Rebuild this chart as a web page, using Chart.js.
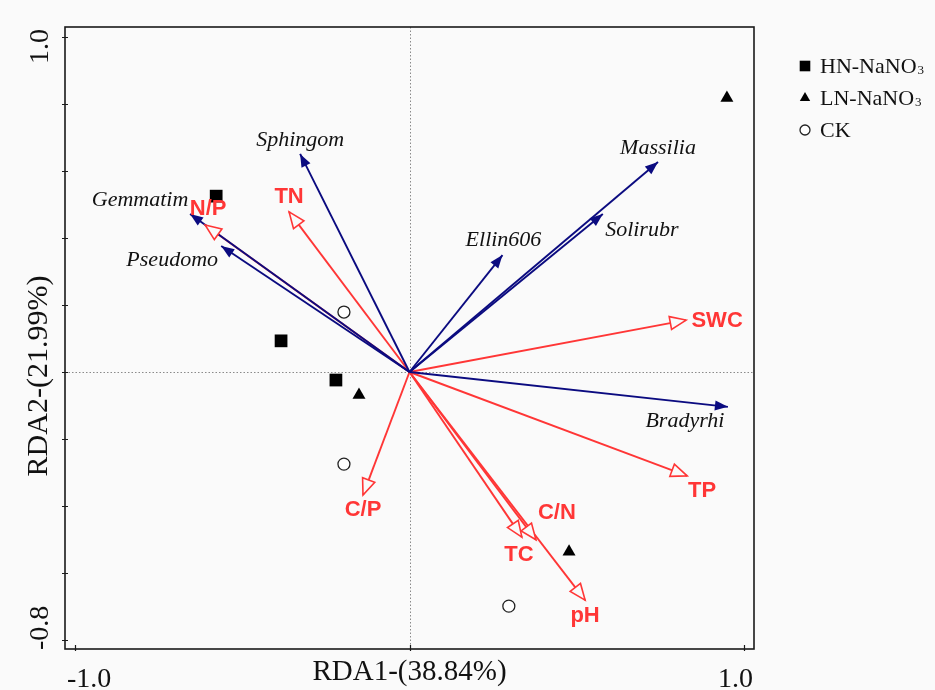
<!DOCTYPE html>
<html>
<head>
<meta charset="utf-8">
<script src="https://cdn.jsdelivr.net/npm/chart.js@4.4.1/dist/chart.umd.min.js"></script>
<style>
  html, body { margin: 0; padding: 0; background: #fafafa; }
  #wrap { width: 935px; height: 690px; }
</style>
</head>
<body>
<div id="wrap"><canvas id="rda" width="935" height="690"></canvas></div>
<script>
// sample scores (RDA1, RDA2)
const hnX = [-0.578, -0.384, -0.220];
const hnY = [0.525, 0.093, -0.024];
const lnX = [0.949, -0.151, 0.477];
const lnY = [0.818, -0.069, -0.537];
const ckX = [-0.196, -0.196, 0.297];
const ckY = [0.179, -0.275, -0.699];

// species vectors
const speciesNames = ["Sphingom", "Gemmatim", "Pseudomo", "Massilia", "Solirubr", "Ellin606", "Bradyrhi"];
const speciesX = [-0.327, -0.656, -0.563, 0.743, 0.578, 0.278, 0.952];
const speciesY = [0.651, 0.472, 0.376, 0.627, 0.472, 0.349, -0.104];

// environmental vectors
const envNames = ["N/P", "TN", "C/P", "TC", "C/N", "pH", "SWC", "TP"];
const envX = [-0.611, -0.360, -0.139, 0.336, 0.378, 0.525, 0.827, 0.830];
const envY = [0.439, 0.478, -0.367, -0.493, -0.501, -0.681, 0.155, -0.310];

const groupNames = ["HN-NaNO", "LN-NaNO", "CK"];
const xTicks = [-1.0, 1.0];
const yTicks = [1.0, -0.8];
const yMinorTicks = [-0.8, -0.6, -0.4, -0.2, 0, 0.2, 0.4, 0.6, 0.8, 1.0];
const xTitle = "RDA1-(38.84%)";
const yTitle = "RDA2-(21.99%)";

// label placement relative to the arrow tip, in px
const speciesLabelOffset = {
  Sphingom: [0, -14], Gemmatim: [-50, -14], Pseudomo: [-49, 14], Massilia: [0, -14],
  Solirubr: [39, 16], Ellin606: [1, -15], Bradyrhi: [-43, 14]
};
const envLabelOffset = {
  "N/P": [3, -16], TN: [0, -15], "C/P": [0, 15], TC: [-3, 18],
  "C/N": [21, -27], pH: [0, 16], SWC: [31, 1], TP: [15, 15]
};

const RED = "#ff3636";
const BLUE = "#0b0b80";
const BG = "#fafafa";
const SERIF = "'Liberation Serif', 'Times New Roman', serif";
const SANS = "'Liberation Sans', Arial, sans-serif";

const toPts = (xs, ys) => xs.map((x, i) => ({ x: x, y: ys[i] }));

const sampleSets = [
  { label: groupNames[0], data: toPts(hnX, hnY), pointStyle: "rect", pointRadius: 9,
    backgroundColor: "#000", borderColor: "#000", borderWidth: 0 },
  { label: groupNames[1], data: toPts(lnX, lnY), pointStyle: "triangle", pointRadius: 7.5,
    backgroundColor: "#000", borderColor: "#000", borderWidth: 0 },
  { label: groupNames[2], data: toPts(ckX, ckY), pointStyle: "circle", pointRadius: 6,
    backgroundColor: "#fff", borderColor: "#222", borderWidth: 1.3 }
];

const vectorSet = (name, x, y, color, kind) => ({
  label: name,
  data: [{ x: 0, y: 0 }, { x: x, y: y }],
  showLine: true,
  borderColor: color,
  borderWidth: 1.9,
  pointRadius: 0,
  vectorKind: kind
});

const speciesSets = speciesNames.map((n, i) => vectorSet(n, speciesX[i], speciesY[i], BLUE, "species"));
const envSets = envNames.map((n, i) => vectorSet(n, envX[i], envY[i], RED, "env"));

const rdaPlugin = {
  id: "rdaDecor",
  beforeDraw(chart) {
    const ctx = chart.ctx;
    ctx.save();
    ctx.fillStyle = BG;
    ctx.fillRect(0, 0, chart.width, chart.height);
    ctx.restore();
  },
  beforeDatasetsDraw(chart) {
    const { ctx, chartArea: a, scales: { x, y } } = chart;
    ctx.save();
    ctx.strokeStyle = "#8a8a8a";
    ctx.lineWidth = 1;
    ctx.setLineDash([1.5, 2]);
    const x0 = Math.round(x.getPixelForValue(0)) + 0.5;
    const y0 = Math.round(y.getPixelForValue(0)) + 0.5;
    ctx.beginPath();
    ctx.moveTo(x0, a.top); ctx.lineTo(x0, a.bottom);
    ctx.moveTo(a.left, y0); ctx.lineTo(a.right, y0);
    ctx.stroke();
    ctx.restore();
  },
  afterDatasetsDraw(chart) {
    const { ctx, chartArea: a, scales: { x, y } } = chart;
    const ox = x.getPixelForValue(0), oy = y.getPixelForValue(0);

    // arrow heads + vector labels
    chart.data.datasets.forEach((ds) => {
      if (!ds.vectorKind) return;
      const isEnv = ds.vectorKind === "env";
      const tip = ds.data[1];
      const tx = x.getPixelForValue(tip.x), ty = y.getPixelForValue(tip.y);
      const ang = Math.atan2(ty - oy, tx - ox);
      const len = isEnv ? 16 : 13;
      const half = isEnv ? 6.5 : 5;
      const bx = tx - len * Math.cos(ang), by = ty - len * Math.sin(ang);
      const px = -Math.sin(ang) * half, py = Math.cos(ang) * half;
      ctx.save();
      ctx.beginPath();
      ctx.moveTo(tx, ty);
      ctx.lineTo(bx + px, by + py);
      ctx.lineTo(bx - px, by - py);
      ctx.closePath();
      if (isEnv) {
        ctx.fillStyle = BG;
        ctx.fill();
        ctx.strokeStyle = RED;
        ctx.lineWidth = 1.6;
        ctx.stroke();
      } else {
        ctx.fillStyle = BLUE;
        ctx.fill();
      }

      const off = (isEnv ? envLabelOffset : speciesLabelOffset)[ds.label] || [0, 0];
      ctx.textAlign = "center";
      ctx.textBaseline = "middle";
      if (isEnv) {
        ctx.font = "bold 22px " + SANS;
        ctx.fillStyle = RED;
      } else {
        ctx.font = "italic 22px " + SERIF;
        ctx.fillStyle = "#111";
      }
      ctx.fillText(ds.label, tx + off[0], ty + off[1]);
      ctx.restore();
    });

    // frame and ticks
    ctx.save();
    ctx.strokeStyle = "#1a1a1a";
    ctx.lineWidth = 1.6;
    ctx.strokeRect(a.left, a.top, a.right - a.left, a.bottom - a.top);
    ctx.lineWidth = 1.2;
    ctx.beginPath();
    yMinorTicks.forEach((v) => {
      const py = Math.round(y.getPixelForValue(v)) + 0.5;
      ctx.moveTo(a.left - 3, py); ctx.lineTo(a.left + 3, py);
    });
    [-1.0, 0, 1.0].forEach((v) => {
      const px = Math.round(x.getPixelForValue(v)) + 0.5;
      ctx.moveTo(px, a.bottom - 4); ctx.lineTo(px, a.bottom + 2);
    });
    ctx.stroke();

    // tick labels
    ctx.fillStyle = "#111";
    ctx.font = "28px " + SERIF;
    ctx.textBaseline = "alphabetic";
    xTicks.forEach((v, i) => {
      const px = x.getPixelForValue(v);
      ctx.textAlign = i === 0 ? "left" : "right";
      ctx.fillText(v.toFixed(1), i === 0 ? px - 8 : px + 9, 687);
    });
    yTicks.forEach((v) => {
      const py = y.getPixelForValue(v);
      ctx.save();
      ctx.translate(48, v > 0 ? py - 8 : py + 10);
      ctx.rotate(-Math.PI / 2);
      ctx.textAlign = v > 0 ? "right" : "left";
      ctx.fillText(v.toFixed(1), 0, 0);
      ctx.restore();
    });

    // axis titles
    ctx.font = "29px " + SERIF;
    ctx.textAlign = "center";
    ctx.fillText(xTitle, x.getPixelForValue(0), 680);
    ctx.save();
    ctx.font = "30px " + SERIF;
    ctx.translate(47, y.getPixelForValue(0) + 4);
    ctx.rotate(-Math.PI / 2);
    ctx.fillText(yTitle, 0, 0);
    ctx.restore();
    ctx.restore();

    // legend: symbols in the dataset styles, names with subscript 3
    const rows = [66, 98, 130];
    ctx.save();
    sampleSets.forEach((ds, i) => {
      ctx.fillStyle = ds.backgroundColor;
      ctx.strokeStyle = ds.borderColor;
      ctx.lineWidth = ds.borderWidth || 0;
      Chart.helpers.drawPoint(ctx, {
        pointStyle: ds.pointStyle,
        radius: ds.pointStyle === "rect" ? 7.5 : ds.pointStyle === "triangle" ? 6 : 5,
        borderWidth: ds.borderWidth || 0,
        rotation: 0
      }, 805, rows[i]);
      ctx.fillStyle = "#111";
      ctx.font = "22px " + SERIF;
      ctx.textAlign = "left";
      ctx.textBaseline = "middle";
      ctx.fillText(ds.label, 820, rows[i] + 1);
      if (i < 2) {
        const w = ctx.measureText(ds.label).width;
        ctx.font = "13px " + SERIF;
        ctx.fillText("3", 820 + w + 1, rows[i] + 5);
      }
    });
    ctx.restore();
  }
};

new Chart(document.getElementById("rda"), {
  type: "scatter",
  data: { datasets: [...sampleSets, ...speciesSets, ...envSets] },
  options: {
    responsive: false,
    animation: false,
    devicePixelRatio: 1,
    layout: { padding: { left: 65, top: 27, right: 181, bottom: 41 } },
    scales: {
      x: { type: "linear", display: false, min: -1.03, max: 1.03 },
      y: { type: "linear", display: false, min: -0.827, max: 1.03 }
    },
    plugins: {
      legend: { display: false },
      tooltip: { enabled: false }
    },
    elements: { line: { tension: 0 } }
  },
  plugins: [rdaPlugin]
});
</script>
</body>
</html>
